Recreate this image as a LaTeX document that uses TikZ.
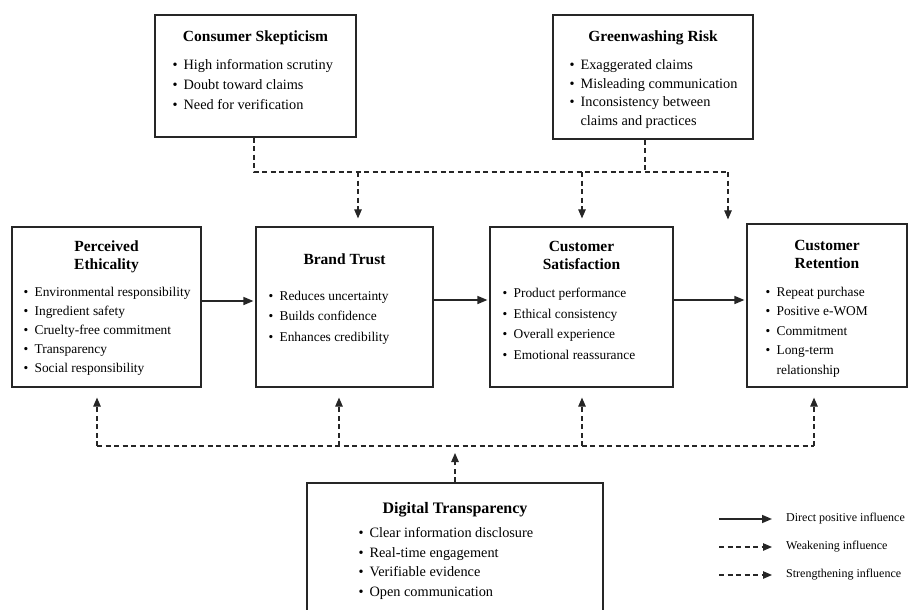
\documentclass[tikz,border=0pt]{standalone}
\usepackage{fontspec}
\setmainfont{Liberation Serif}
\usepackage{tikz}
\usetikzlibrary{positioning}
\usetikzlibrary{arrows.meta}

\newcommand{\itm}{\makebox[11pt][l]{\textbullet}}

\begin{document}
\begin{tikzpicture}[x=1pt,y=-1pt]
        \tikzstyle{box}=[draw=black!85,line width=1.2pt,inner sep=0pt]
        \tikzstyle{ttl}=[font=\fontsize{15.5}{18}\selectfont\bfseries,
            align=center,inner sep=0pt]
        \tikzstyle{lst}=[align=left,inner sep=0pt]
        \tikzstyle{sarr}=[draw=black!85,line width=1.5pt,
            -{Triangle[length=10pt,width=8pt]}]
        \tikzstyle{dline}=[draw=black!85,line width=1.1pt,
            dash pattern=on 5pt off 3.5pt]
        \tikzstyle{darr}=[dline,-{Triangle[length=9pt,width=7.5pt]}]
        \tikzstyle{legtxt}=[font=\fontsize{12}{14}\selectfont,anchor=west,
            inner sep=0pt]

            \useasboundingbox (0,0) rectangle (908,610);

            % main row
            \node[box, minimum width=189pt, minimum height=160pt] (pe)
            at (106.5,307) {};
            \node[ttl, below=14.6pt of pe.north] (pe-t)
            {Perceived\\Ethicality};
            \node[lst, font=\fontsize{13.4}{19}\selectfont,
            below right=60.3pt and 12pt of pe.north west] (pe-l)
            {\itm Environmental responsibility\\\itm Ingredient safety\\
            \itm Cruelty-free commitment\\\itm Transparency\\
            \itm Social responsibility};

            \node[box, minimum width=177pt, minimum height=160pt] (bt)
            at (344.5,307) {};
            \node[ttl, below=27.6pt of bt.north] (bt-t) {Brand Trust};
            \node[lst, font=\fontsize{13.4}{20.5}\selectfont,
            below right=64.3pt and 13pt of bt.north west] (bt-l)
            {\itm Reduces uncertainty\\\itm Builds confidence\\
            \itm Enhances credibility};

            \node[box, minimum width=183pt, minimum height=160pt] (csat)
            at (581.5,307) {};
            \node[ttl, below=14.6pt of csat.north] (csat-t)
            {Customer\\Satisfaction};
            \node[lst, font=\fontsize{13.4}{20.7}\selectfont,
            below right=61.3pt and 13pt of csat.north west] (csat-l)
            {\itm Product performance\\\itm Ethical consistency\\
            \itm Overall experience\\\itm Emotional reassurance};

            \node[box, minimum width=160pt, minimum height=163pt] (cr)
            at (827,305.5) {};
            \node[ttl, below=16.6pt of cr.north] (cr-t)
            {Customer\\Retention};
            \node[lst, font=\fontsize{13.4}{19.5}\selectfont,
            below right=63.3pt and 19pt of cr.north west] (cr-l)
            {\itm Repeat purchase\\\itm Positive e-WOM\\\itm Commitment\\
            \itm Long-term\\\hspace*{11pt}relationship};

            % moderators
            \node[box, minimum width=201pt, minimum height=122pt] (cs)
            at (255.5,76) {};
            \node[ttl, below=16.6pt of cs.north] (cs-t)
            {Consumer Skepticism};
            \node[lst, font=\fontsize{14.3}{20}\selectfont,
            below right=45pt and 18pt of cs.north west] (cs-l)
            {\itm High information scrutiny\\\itm Doubt toward claims\\
            \itm Need for verification};

            \node[box, minimum width=200pt, minimum height=124pt] (gw)
            at (653,77) {};
            \node[ttl, below=16.6pt of gw.north] (gw-t)
            {Greenwashing Risk};
            \node[lst, font=\fontsize{14.3}{18.7}\selectfont,
            below right=45pt and 17pt of gw.north west] (gw-l)
            {\itm Exaggerated claims\\\itm Misleading communication\\
            \itm Inconsistency between\\\hspace*{11pt}claims and practices};

            \node[box, minimum width=296pt, minimum height=142pt] (dt)
            at (455,554) {};
            \node[ttl, font=\fontsize{16}{18}\selectfont\bfseries,
            below=19.4pt of dt.north] (dt-t) {Digital Transparency};
            \node[lst, font=\fontsize{14.3}{19.7}\selectfont,
            below right=44.9pt and 52pt of dt.north west] (dt-l)
            {\itm Clear information disclosure\\\itm Real-time engagement\\
            \itm Verifiable evidence\\\itm Open communication};

            % direct path
            \draw[sarr, shorten >=2pt] ([yshift=6pt]pe.east) --
            ([yshift=6pt]pe.east -| bt.west);
            \draw[sarr, shorten >=2pt] ([yshift=7pt]bt.east) --
            ([yshift=7pt]bt.east -| csat.west);
            \draw[sarr, shorten >=2pt] ([yshift=7pt]csat.east) --
            ([yshift=7pt]csat.east -| cr.west);

            % weakening links
            \coordinate (t1) at (358,172);
            \coordinate (t2) at (582,172);
            \coordinate (t3) at (728,172);
            \draw[dline] ([xshift=-1.5pt]cs.south) |- (t3);
            \draw[dline] ([xshift=-8pt]gw.south) --
            ([xshift=-8pt]gw.south |- t3);
            \draw[darr, shorten >=8pt] (t1) -- (t1 |- bt.north);
            \draw[darr, shorten >=8pt] (t2) -- (t2 |- csat.north);
            \draw[darr, shorten >=4pt] (t3) -- (t3 |- cr.north);

            % strengthening links
            \coordinate (u1) at (97,446);
            \coordinate (u2) at (339,446);
            \coordinate (u3) at (582,446);
            \coordinate (u4) at (814,446);
            \draw[dline] (u1) -- (u4);
            \foreach \t/\n in {1/pe, 2/bt, 3/csat, 4/cr}
            {
                \draw[darr, shorten >=10pt] (u\t) -- (u\t |- \n.south);
            }
            \draw[darr, shorten >=7pt] (dt.north) -- (dt.north |- u1);

            % legend
            \node[legtxt] (lg1) at (786,519) {Direct positive influence};
            \node[legtxt] (lg2) at (786,547) {Weakening influence};
            \node[legtxt] (lg3) at (786,575) {Strengthening influence};
            \coordinate[left=67pt of lg1.west] (lg1a);
            \coordinate[left=67pt of lg2.west] (lg2a);
            \coordinate[left=67pt of lg3.west] (lg3a);
            \draw[sarr, shorten >=14pt] (lg1a) -- (lg1.west);
            \draw[darr, shorten >=14pt] (lg2a) -- (lg2.west);
            \draw[darr, shorten >=14pt] (lg3a) -- (lg3.west);
    \end{tikzpicture}
\end{document}
